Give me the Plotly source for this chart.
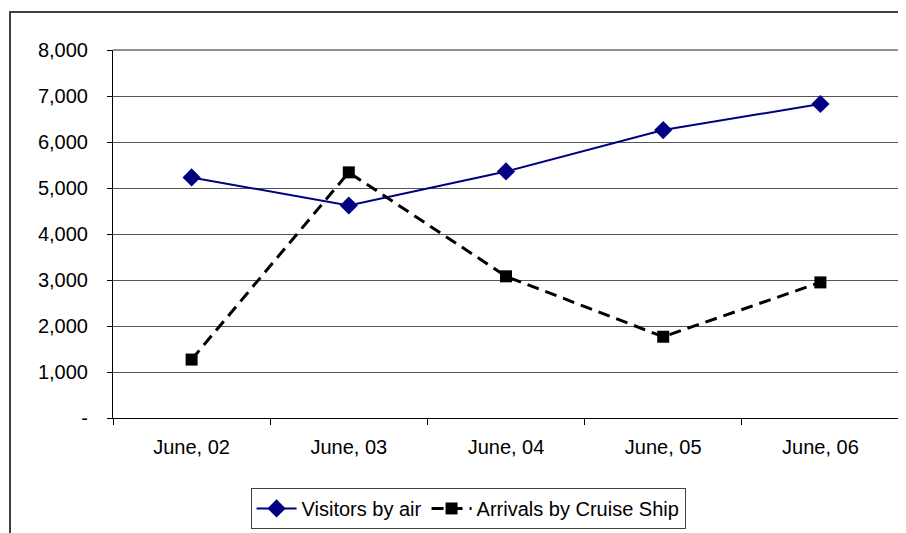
import plotly.graph_objects as go

categories = ["June, 02", "June, 03", "June, 04", "June, 05", "June, 06"]
visitors_by_air = [5230, 4620, 5360, 6260, 6826]
cruise_arrivals = [1270, 5340, 3080, 1767, 2948]
y_tickvals = [0, 1000, 2000, 3000, 4000, 5000, 6000, 7000, 8000]
y_ticktext = ["-", "1,000", "2,000", "3,000", "4,000", "5,000", "6,000", "7,000", "8,000"]

FONT = "Liberation Sans, Arial, sans-serif"
FS = 20

# page has an 8px body margin, so the figure is laid out shifted by -8px
L, T, PW, PH = 105, 42, 786, 368

fig = go.Figure()
fig.add_trace(go.Scatter(
    x=categories, y=visitors_by_air, name="Visitors by air",
    mode="lines+markers",
    line=dict(color="#000080", width=2),
    marker=dict(symbol="diamond", size=14, color="#000080"),
))
fig.add_trace(go.Scatter(
    x=categories, y=cruise_arrivals, name="Arrivals by Cruise Ship",
    mode="lines+markers",
    line=dict(color="#000000", width=3, dash="12px,7px"),
    marker=dict(symbol="square", size=12, color="#000000"),
))

fig.update_layout(
    width=906, height=533,
    margin=dict(l=L, r=906 - L - PW, t=T, b=533 - T - PH),
    paper_bgcolor="white", plot_bgcolor="white",
    font=dict(family=FONT, size=FS, color="#000000"),
    showlegend=True,
    legend=dict(
        orientation="h", x=0.175, xanchor="left", y=-0.19, yanchor="top",
        bordercolor="#404040", borderwidth=1, bgcolor="white",
        font=dict(family=FONT, size=FS, color="#000000"),
        itemwidth=40,
    ),
    shapes=[
        # outer chart border (extends beyond the visible window)
        dict(type="rect", xref="paper", yref="paper",
             x0=(2 - L) / PW, x1=1.2, y0=-0.6, y1=(T + PH - 4) / PH,
             line=dict(color="#404040", width=2), layer="below"),
        # plot area top/right border
        dict(type="line", xref="paper", yref="paper", x0=0, x1=1, y0=1, y1=1,
             line=dict(color="#909090", width=2), layer="below"),
        dict(type="line", xref="paper", yref="paper", x0=1, x1=1, y0=0, y1=1,
             line=dict(color="#909090", width=2), layer="below"),
    ],
)

fig.update_xaxes(
    type="category", range=[-0.5, len(categories) - 0.5],
    tickson="boundaries", ticks="outside", ticklen=6,
    tickcolor="#000000", showline=True, linecolor="#000000", linewidth=1,
    showgrid=False, zeroline=False, ticklabelstandoff=11,
    tickfont=dict(family=FONT, size=FS, color="#000000"),
)
fig.update_yaxes(
    range=[0, 8000], tickvals=y_tickvals, ticktext=y_ticktext,
    ticks="outside", ticklen=5, tickcolor="#000000",
    showline=True, linecolor="#000000", linewidth=1,
    showgrid=True, gridcolor="#555555", gridwidth=1, zeroline=False,
    ticklabelstandoff=15,
    tickfont=dict(family=FONT, size=FS, color="#000000"),
)

fig.write_html("out.html")
